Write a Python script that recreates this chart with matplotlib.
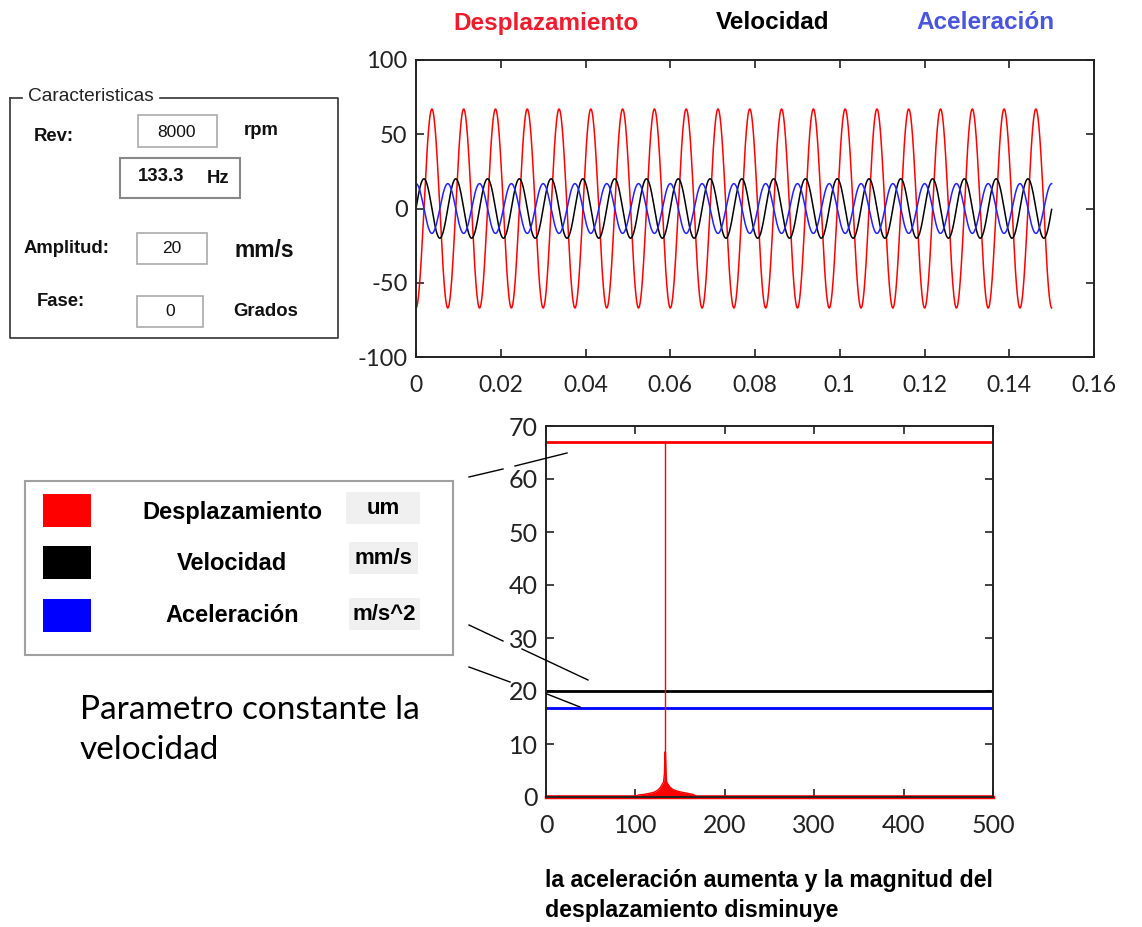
import matplotlib
matplotlib.use("Agg")
import matplotlib.pyplot as plt
import numpy as np
from matplotlib.patches import Rectangle

plt.rcParams['axes.unicode_minus'] = False

# Parametros de la senal
rev_rpm = 8000
freq_hz = 133.3
amp_desp = 67.0     # um
amp_vel = 20.0      # mm/s
amp_acel = 16.75    # m/s^2
t_final = 0.15

# Ejes de la senal temporal
t_ticks = [0, 0.02, 0.04, 0.06, 0.08, 0.1, 0.12, 0.14, 0.16]
t_labels = ['0', '0.02', '0.04', '0.06', '0.08', '0.1', '0.12', '0.14', '0.16']
y_ticks_sig = [-100, -50, 0, 50, 100]

# Espectro (FFT) alrededor del pico
spec_freq = [0, 100, 104, 110, 116, 121, 125, 128, 130, 131.5, 132.5, 133.0,
             133.6, 134.2, 135, 136.5, 138.5, 142, 147, 152, 158, 164, 168, 500]
spec_mag = [0.2, 0.2, 0.4, 0.5, 0.7, 0.9, 1.3, 1.8, 2.4, 2.8, 4.5, 8.5,
            8.5, 4.5, 2.8, 2.4, 1.9, 1.4, 1.1, 0.9, 0.7, 0.5, 0.2, 0.2]
# Valores maximos de cada magnitud
nivel_desp = 67.0
nivel_vel = 20.0
nivel_acel = 16.75
f_ticks = [0, 100, 200, 300, 400, 500]
mag_ticks = [0, 10, 20, 30, 40, 50, 60, 70]

W, H = 1142, 927
fig = plt.figure(figsize=(W / 100, H / 100), dpi=100)

ROJO = '#ff0000'
AZUL = '#2222ff'


def estilo_ejes(ax, size_x, size_y, pad_x):
    for s in ax.spines.values():
        s.set_linewidth(1.4)
        s.set_color('#222222')
    ax.tick_params(direction='in', length=6, width=1.2, top=True, right=True,
                   colors='#222222')
    ax.tick_params(axis='x', pad=pad_x)
    ax.tick_params(axis='y', pad=6)
    for lab in ax.get_xticklabels():
        lab.set_fontfamily('Lato')
        lab.set_fontsize(size_x)
    for lab in ax.get_yticklabels():
        lab.set_fontfamily('Lato')
        lab.set_fontsize(size_y)


# Senal en el tiempo
ax1 = fig.add_axes([416 / W, 1 - 357 / H, (1094 - 416) / W, (357 - 60) / H])
t = np.linspace(0, t_final, 4000)
w = 2 * np.pi * freq_hz
ax1.plot(t, -amp_desp * np.cos(w * t), color=ROJO, lw=1.1)
ax1.plot(t, amp_vel * np.sin(w * t), color='black', lw=1.1)
ax1.plot(t, amp_acel * np.cos(w * t), color=AZUL, lw=1.1)
ax1.set_xlim(0, 0.16)
ax1.set_ylim(-100, 100)
ax1.set_xticks(t_ticks)
ax1.set_xticklabels(t_labels)
ax1.set_yticks(y_ticks_sig)
estilo_ejes(ax1, 16.5, 17, 13)

# Espectro
ax2 = fig.add_axes([546 / W, 1 - 797 / H, (993 - 546) / W, (797 - 426) / H])
ax2.axhline(nivel_desp, color=ROJO, lw=2)
ax2.axhline(nivel_vel, color='black', lw=2)
ax2.axhline(nivel_acel, color='#0000ff', lw=2)
ax2.plot([freq_hz, freq_hz], [0, nivel_desp], color=ROJO, lw=1)
ax2.fill_between(spec_freq, 0, spec_mag, color=ROJO, lw=0)
ax2.plot(spec_freq, spec_mag, color=ROJO, lw=1)
ax2.plot([0, 500], [0, 0], color=ROJO, lw=2.5, clip_on=False)
ax2.set_xlim(0, 500)
ax2.set_ylim(0, 70)
ax2.set_xticks(f_ticks)
ax2.set_yticks(mag_ticks)
estilo_ejes(ax2, 18, 18, 12)

# Capa para los paneles y textos
ov = fig.add_axes([0, 0, 1, 1], zorder=10)
ov.set_xlim(0, W)
ov.set_ylim(H, 0)
ov.axis('off')
ov.patch.set_alpha(0)

# Titulos de las senales
tit = dict(fontfamily='Liberation Sans', fontweight='bold', fontsize=17.5,
           ha='center', va='center')
ov.text(546, 23, 'Desplazamiento', color='#ee1c2c', **tit)
ov.text(773, 22, 'Velocidad', color='black', **tit)
ov.text(985, 22, 'Aceleración', color='#4a55dd', **tit)

# Panel de caracteristicas
marco = '#333333'
ov.plot([10, 10, 338, 338, 160], [98, 338, 338, 98, 98], color=marco, lw=1.2)
ov.plot([10, 22], [98, 98], color=marco, lw=1.2)
ov.text(91, 96, 'Caracteristicas', fontfamily='Liberation Sans', fontsize=13.8,
        ha='center', va='center', color='#222222')

neg = dict(fontfamily='Liberation Sans', fontweight='bold', fontsize=13.3,
           ha='center', va='center', color='#111111')
reg = dict(fontfamily='Liberation Sans', fontsize=12.5, ha='center',
           va='center', color='#111111')


def caja(x0, y0, x1, y1, edge='#aaaaaa', face='white', lw=1.2):
    ov.add_patch(Rectangle((x0, y0), x1 - x0, y1 - y0, facecolor=face,
                           edgecolor=edge, lw=lw))


ov.text(54, 136, 'Rev:', **neg)
caja(138, 115, 217, 147)
ov.text(177, 132, str(rev_rpm), **reg)
ov.text(261, 130, 'rpm', **neg)

caja(120, 158, 240, 198, edge='#888888', lw=1.5)
ov.text(161, 176, f'{freq_hz:.1f}', **neg)
ov.text(218, 178, 'Hz', **neg)

ov.text(66, 248, 'Amplitud:', **neg)
caja(137, 233, 207, 264)
ov.text(172, 248, f'{amp_vel:.0f}', **reg)
ov.text(264, 250, 'mm/s', fontfamily='Liberation Sans', fontweight='bold',
        fontsize=16.5, ha='center', va='center', color='#111111')

ov.text(61, 302, 'Fase:', **neg)
caja(137, 296, 203, 327)
ov.text(170, 312, '0', **reg)
ov.text(266, 311, 'Grados', **neg)

# Leyenda de colores y unidades
caja(25, 481, 453, 655, edge='#a0a0a0', lw=1.5)
ley = dict(fontfamily='Liberation Sans', fontweight='bold', fontsize=17,
           ha='center', va='center', color='black')
uni = dict(fontfamily='Liberation Sans', fontweight='bold', fontsize=16,
           ha='center', va='center', color='black')
filas = [('Desplazamiento', 'um', '#ff0000', 494, 513, (346, 492, 420, 524)),
         ('Velocidad', 'mm/s', '#000000', 546, 563, (349, 542, 418, 574)),
         ('Aceleración', 'm/s^2', '#0000ff', 599, 616, (349, 598, 420, 630))]
for nombre, unidad, color, ysq, ytx, ub in filas:
    ov.add_patch(Rectangle((43, ysq), 48, 33, facecolor=color, edgecolor='none'))
    ov.text(232, ytx, nombre, **ley)
    caja(*ub, edge='none', face='#f0f0f0')
    ov.text((ub[0] + ub[2]) / 2, (ub[1] + ub[3]) / 2, unidad, **uni)

# Lineas de referencia hacia el espectro
segs = [((469, 477), (503, 469)), ((515, 466), (567, 453)),
        ((469, 625), (503, 641)), ((522, 649), (588, 680)),
        ((469, 667), (510, 682)), ((547, 694), (580, 707))]
for (xa, ya), (xb, yb) in segs:
    ov.plot([xa, xb], [ya, yb], color='black', lw=1)

ov.text(80, 710, 'Parametro constante la', fontfamily='Lato', fontsize=24,
        ha='left', va='center', color='black')
ov.text(80, 750, 'velocidad', fontfamily='Lato', fontsize=24,
        ha='left', va='center', color='black')

nota = dict(fontfamily='Liberation Sans', fontweight='bold', fontsize=16.7,
            ha='left', va='center', color='black')
ov.text(545, 881, 'la aceleración aumenta y la magnitud del', **nota)
ov.text(545, 910, 'desplazamiento disminuye', **nota)

fig.savefig('out.png', dpi=100)
